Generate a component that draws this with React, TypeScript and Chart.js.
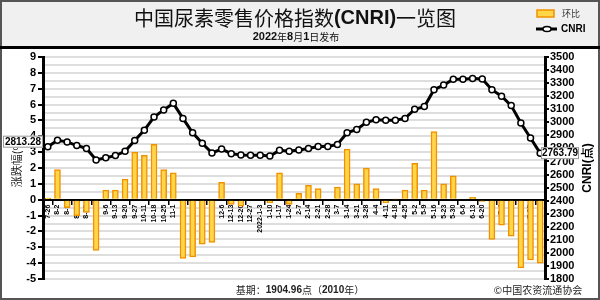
import React, { useEffect, useRef } from 'react';
import { Chart, registerables } from 'chart.js';
Chart.register(...registerables);

const weeks = ['7-26','8-2','8-9','8-16','8-23','8-30','9-6','9-13','9-20','9-27','10-11','10-18','10-25','11-1','11-8','11-15','11-22','11-29','12-6','12-13','12-20','12-27','2022-1-3','1-10','1-17','1-24','2-7','2-14','2-21','2-28','3-7','3-14','3-21','3-28','4-4','4-11','4-18','4-25','5-2','5-9','5-16','5-23','5-30','6-6','6-13','6-20','6-27','7-4','7-11','7-18','7-25','8-1'];

const changePct = [0.1,1.9,-0.5,-1.0,-0.8,-3.2,0.6,0.6,1.3,3.0,2.8,3.5,1.9,1.7,-3.7,-3.6,-2.8,-2.7,1.1,-0.3,-0.4,0,0,-0.2,1.7,-0.3,0.4,0.9,0.7,0,0.8,3.2,1.0,2.0,0.7,-0.2,0.05,0.6,2.3,0.6,4.3,1.0,1.5,0,0.15,-0.1,-2.5,-1.6,-2.3,-4.3,-3.8,-4.0];

const cnri = [2813.28,2862,2850,2822,2800,2712,2728,2745,2778,2860,2940,3040,3095,3145,3030,2920,2840,2765,2795,2760,2750,2748,2748,2742,2785,2778,2788,2800,2815,2815,2830,2920,2945,3000,3020,3015,3016,3030,3100,3120,3250,3285,3330,3330,3335,3332,3250,3200,3128,2995,2880,2763.79];

const leftRange = [-5, 9];
const rightRange = [1800, 3500];
const titleParts = ['中国尿素零售价格指数', '(CNRI)', '一览图'];
const subtitleParts = ['2022', '年', '8', '月', '1', '日发布'];
const baseParts = ['基期：', '1904.96', '点（', '2010', '年）'];
const copyText = '©中国农资流通协会';

const LAT = '"Liberation Sans", Arial, sans-serif';
const CJK = '"Noto Sans CJK SC", sans-serif';

function drawParts(ctx: any, parts: string[], fonts: string[], cx: number, y: number) {
  let total = 0;
  const ws = parts.map((p, i) => { ctx.font = fonts[i]; const w = ctx.measureText(p).width; total += w; return w; });
  let x = cx - total / 2;
  ctx.textAlign = 'left';
  parts.forEach((p, i) => { ctx.font = fonts[i]; ctx.fillText(p, x, y); x += ws[i]; });
}

const decor = {
  id: 'decor',
  beforeDraw(chart: any) {
    const { ctx, chartArea } = chart;
    ctx.save();
    ctx.fillStyle = '#ffffff';
    ctx.fillRect(0, 0, 600, 300);
    ctx.fillStyle = '#f0f0f0';
    ctx.fillRect(0, 0, 600, 47);
    const ys = chart.scales.y;
    ctx.strokeStyle = '#dedede';
    ctx.lineWidth = 2;
    for (let v = leftRange[0]; v <= leftRange[1]; v += 0.5) {
      const py = Math.round(ys.getPixelForValue(v));
      ctx.beginPath();
      ctx.moveTo(chartArea.left, py);
      ctx.lineTo(chartArea.right, py);
      ctx.stroke();
    }
    ctx.restore();
  },
  afterDraw(chart: any) {
    const { ctx } = chart;
    ctx.save();
    ctx.strokeStyle = '#555';
    ctx.lineWidth = 2;
    ctx.strokeRect(1, 1, 598, 298);
    ctx.fillStyle = '#000';
    ctx.fillRect(0, 46, 600, 3);
    ctx.textBaseline = 'middle';
    ctx.fillStyle = '#111';
    drawParts(ctx, titleParts, [`20px ${CJK}`, `bold 20px ${LAT}`, `20px ${CJK}`], 295, 18);
    drawParts(ctx, subtitleParts, [`bold 11px ${LAT}`, `10px ${CJK}`, `bold 11px ${LAT}`, `10px ${CJK}`, `bold 11px ${LAT}`, `10px ${CJK}`], 296, 37);
    // legend
    ctx.fillStyle = '#FFD54A';
    ctx.fillRect(537, 10, 17, 7);
    ctx.strokeStyle = '#F29100';
    ctx.lineWidth = 1.5;
    ctx.strokeRect(537, 10, 17, 7);
    ctx.textAlign = 'left';
    ctx.fillStyle = '#333';
    ctx.font = `9px ${CJK}`;
    ctx.fillText('环比', 562, 14);
    ctx.strokeStyle = '#000';
    ctx.lineWidth = 3;
    ctx.beginPath();
    ctx.moveTo(536, 29);
    ctx.lineTo(557, 29);
    ctx.stroke();
    ctx.fillStyle = '#fff';
    ctx.lineWidth = 1.5;
    ctx.beginPath();
    ctx.ellipse(547, 29, 4, 2.5, 0, 0, Math.PI * 2);
    ctx.fill();
    ctx.stroke();
    ctx.fillStyle = '#000';
    ctx.font = `bold 10px ${LAT}`;
    ctx.fillText('CNRI', 561, 29);
    // axis titles
    ctx.save();
    ctx.translate(17, 162);
    ctx.rotate(-Math.PI / 2);
    ctx.textAlign = 'center';
    ctx.font = `11px ${CJK}`;
    ctx.fillStyle = '#222';
    ctx.fillText('涨跌幅(%)', 0, 0);
    ctx.restore();
    ctx.save();
    ctx.translate(588, 168);
    ctx.rotate(-Math.PI / 2);
    ctx.textAlign = 'center';
    ctx.font = `bold 12px ${LAT}`;
    ctx.fillStyle = '#000';
    ctx.fillText('CNRI(点)', 0, 0);
    ctx.restore();
    // value boxes
    const meta = chart.getDatasetMeta(1);
    const p0 = meta.data[0];
    const pN = meta.data[meta.data.length - 1];
    const box = (x: number, y: number, w: number, txt: string) => {
      ctx.fillStyle = '#fff';
      ctx.fillRect(x, y - 6, w, 12);
      ctx.strokeStyle = '#999';
      ctx.lineWidth = 1;
      ctx.strokeRect(x + 0.5, y - 5.5, w - 1, 11);
      ctx.fillStyle = '#000';
      ctx.textAlign = 'center';
      ctx.font = `bold 10px ${LAT}`;
      ctx.fillText(txt, x + w / 2, y + 0.5);
    };
    box(3, p0.y - 5, 40, cnri[0].toFixed(2));
    box(541, pN.y, 38, cnri[cnri.length - 1].toFixed(2));
    // bottom texts
    ctx.fillStyle = '#222';
    drawParts(ctx, baseParts, [`10px ${CJK}`, `bold 10px ${LAT}`, `10px ${CJK}`, `bold 10px ${LAT}`, `10px ${CJK}`], 300, 290);
    ctx.textAlign = 'center';
    ctx.font = `10px ${CJK}`;
    ctx.fillText(copyText, 538, 290);
    ctx.restore();
  },
};

export default function App() {
  const ref = useRef<HTMLCanvasElement>(null);
  useEffect(() => {
    if (!ref.current) return;
    const chart = new Chart(ref.current, {
      type: 'bar',
      data: {
        labels: weeks,
        datasets: [
          {
            type: 'bar',
            label: '环比',
            data: changePct,
            yAxisID: 'y',
            backgroundColor: '#FFD54A',
            borderColor: '#F29100',
            borderWidth: 1.5,
            barThickness: 6,
            order: 2,
          },
          {
            type: 'line',
            label: 'CNRI',
            data: cnri,
            yAxisID: 'y1',
            borderColor: '#000',
            borderWidth: 3,
            pointRadius: 3,
            pointBackgroundColor: '#fff',
            pointBorderColor: '#000',
            pointBorderWidth: 1.5,
            tension: 0,
            order: 1,
          } as any,
        ],
      },
      options: {
        responsive: false,
        animation: false,
        devicePixelRatio: 1,
        layout: { padding: { top: 57, bottom: 21, left: 0, right: 0 } },
        plugins: { legend: { display: false }, tooltip: { enabled: false } },
        scales: {
          x: {
            position: { y: 0 } as any,
            offset: true,
            grid: {
              offset: true,
              drawOnChartArea: false,
              tickLength: 4,
              lineWidth: 1.5,
              color: (c: any) => (c.index % 2 === 1 ? '#000' : 'rgba(0,0,0,0)'),
            },
            border: { display: true, color: '#000', width: 2 },
            ticks: {
              autoSkip: false,
              maxRotation: 90,
              minRotation: 90,
              padding: 1,
              color: '#000',
              font: { family: LAT, size: 7, weight: 'bold' },
            },
          },
          y: {
            position: 'left',
            min: leftRange[0],
            max: leftRange[1],
            afterFit: (s: any) => { s.width = 43; },
            ticks: { stepSize: 1, autoSkip: false, color: '#000', padding: 2, font: { family: LAT, size: 11, weight: 'bold' } },
            grid: { drawOnChartArea: false, tickLength: 5, color: '#000', lineWidth: 2 },
            border: { display: true, color: '#000', width: 3 },
          },
          y1: {
            position: 'right',
            min: rightRange[0],
            max: rightRange[1],
            afterFit: (s: any) => { s.width = 55; },
            ticks: { stepSize: 100, autoSkip: false, color: '#000', padding: 1, font: { family: LAT, size: 11, weight: 'bold' }, callback: (v: any) => String(v) },
            grid: { drawOnChartArea: false, tickLength: 4, color: '#000', lineWidth: 2 },
            border: { display: true, color: '#000', width: 3 },
          },
        },
      },
      plugins: [decor],
    });
    return () => chart.destroy();
  }, []);
  return (
    <div style={{ position: 'fixed', left: 0, top: 0, width: 600, height: 300 }}>
      <canvas ref={ref} width={600} height={300} style={{ width: 600, height: 300, display: 'block' }} />
    </div>
  );
}
